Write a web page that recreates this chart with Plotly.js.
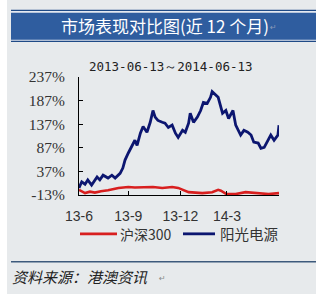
<!DOCTYPE html>
<html>
<head>
<meta charset="utf-8">
<script src="https://cdn.plot.ly/plotly-3.0.1.min.js"></script>
<style>
html,body{margin:0;padding:0;background:#ffffff;width:322px;height:296px;overflow:hidden;}
#chart{position:absolute;left:7px;top:0;width:309px;height:294px;}
</style>
</head>
<body>
<div id="chart"></div>
<script>
// 阳光电源
const blueDates = ['2013-06-13','2013-06-18','2013-06-24','2013-06-29','2013-07-06','2013-07-16','2013-07-21','2013-07-27','2013-08-05','2013-08-12','2013-08-18','2013-08-27','2013-09-01','2013-09-05','2013-09-11','2013-09-18','2013-09-23','2013-09-27','2013-10-03','2013-10-08','2013-10-15','2013-10-21','2013-10-26','2013-10-30','2013-11-04','2013-11-12','2013-11-17','2013-11-23','2013-11-30','2013-12-06','2013-12-11','2013-12-19','2013-12-24','2013-12-30','2014-01-02','2014-01-08','2014-01-15','2014-01-21','2014-01-26','2014-02-02','2014-02-08','2014-02-11','2014-02-17','2014-02-22','2014-03-02','2014-03-08','2014-03-13','2014-03-21','2014-03-26','2014-04-04','2014-04-10','2014-04-17','2014-04-23','2014-04-28','2014-05-06','2014-05-11','2014-05-17','2014-05-24','2014-05-29','2014-06-04','2014-06-11','2014-06-13'];
const blueValues = [2,15,10,19,8,25,19,29,23,29,23,33,44,61,76,92,103,92,118,132,120,141,166,152,145,141,139,130,135,118,109,124,120,139,160,141,152,166,183,181,194,206,200,194,160,166,149,166,135,114,124,120,114,99,97,86,88,103,114,103,114,135];

// 沪深300
const redDates = ['2013-06-13','2013-06-24','2013-07-03','2013-07-12','2013-07-23','2013-08-05','2013-08-24','2013-09-11','2013-09-23','2013-10-08','2013-10-26','2013-11-12','2013-11-30','2013-12-11','2013-12-30','2014-01-24','2014-02-11','2014-02-22','2014-02-27','2014-03-09','2014-03-26','2014-04-13','2014-05-01','2014-05-25','2014-06-13'];
const redValues = [-2,-9,-6,-8,-5,-3,2,4,3,4,4,2,4,2,-7,-9,-7,-2,-4,-11,-11,-7,-9,-11,-9];

const yTicks = [-13,37,87,137,187,237];
const yTickText = ['-13%','37%','87%','137%','187%','237%'];
const xTickVals = ['2013-06-13','2013-09-11','2013-12-15','2014-03-10'];
const xTickText = ['13-6','13-9','13-12','14-3'];

const titleText = '市场表现对比图(近 12 个月)';
const subTitle = '2013-06-13～2014-06-13';
const seriesNames = ['沪深300','阳光电源'];
const sourceText = '资料来源：港澳资讯';

const RED = '#d81f1f', BLUE = '#0c1670';

const traces = [
  {x: redDates, y: redValues, name: seriesNames[0], type:'scatter', mode:'lines',
   line:{color:RED, width:2.6}, hoverinfo:'skip'},
  {x: blueDates, y: blueValues, name: seriesNames[1], type:'scatter', mode:'lines',
   line:{color:BLUE, width:2.8}, hoverinfo:'skip'}
];

// plot area in div px: x 72..272, y 76.5..195
const PL=72, PW=200, PB=195, PH=118.5;
const px = v => (v-PL)/PW;
const py = v => (PB-v)/PH;

const shapes = [
  {type:'rect', xref:'paper', yref:'paper', x0:px(4), x1:px(309), y0:py(41.3), y1:py(9), fillcolor:'#1f4a86', line:{width:0}, layer:'below'},
  {type:'rect', xref:'paper', yref:'paper', x0:px(4), x1:px(309), y0:py(40.2), y1:py(10.2), fillcolor:'#e4e9f1', line:{width:0}, layer:'below'},
  {type:'rect', xref:'paper', yref:'paper', x0:px(4), x1:px(309), y0:py(39), y1:py(12), fillcolor:'#2f5d9f', line:{width:0}, layer:'below'},
  {type:'line', xref:'paper', yref:'paper', x0:px(4), x1:px(309), y0:py(262), y1:py(262), line:{color:'#3d5a7c', width:1.5}},
  {type:'line', xref:'paper', yref:'paper', x0:px(73), x1:px(110), y0:py(234), y1:py(234), line:{color:RED, width:2.8}},
  {type:'line', xref:'paper', yref:'paper', x0:px(176), x1:px(208), y0:py(234), y1:py(234), line:{color:BLUE, width:2.8}}
];

const CJK = '"Noto Sans CJK SC", "Noto Sans", sans-serif';
const annotations = [
  {xref:'paper', yref:'paper', x:px(158), y:py(25), text:titleText, showarrow:false, xanchor:'center', yanchor:'middle', font:{family:CJK, size:17, color:'#ffffff'}},
  {xref:'paper', yref:'paper', x:px(261), y:py(27), text:'↵', showarrow:false, xanchor:'left', yanchor:'middle', font:{family:'DejaVu Sans', size:8, color:'#8a9ab8'}},
  {xref:'paper', yref:'paper', x:px(164), y:py(66), text:subTitle, showarrow:false, xanchor:'center', yanchor:'middle', font:{family:'"DejaVu Sans Mono", monospace', size:12.5, color:'#222222'}},
  {xref:'paper', yref:'paper', x:px(111), y:py(234), text:seriesNames[0], showarrow:false, xanchor:'left', yanchor:'middle', font:{family:CJK, size:14, color:'#333333'}},
  {xref:'paper', yref:'paper', x:px(211), y:py(234), text:seriesNames[1], showarrow:false, xanchor:'left', yanchor:'middle', font:{family:CJK, size:14.5, color:'#333333'}},
  {xref:'paper', yref:'paper', x:px(3), y:py(277), text:sourceText, showarrow:false, xanchor:'left', yanchor:'middle', font:{family:CJK, size:15, color:'#222222', style:'italic'}},
  {xref:'paper', yref:'paper', x:px(150), y:py(279), text:'↵', showarrow:false, xanchor:'left', yanchor:'middle', font:{family:'DejaVu Sans', size:8, color:'#8a8a8a'}}
];

const layout = {
  width:309, height:294,
  margin:{l:PL, r:309-PL-PW, t:PB-PH, b:294-PB, pad:0},
  paper_bgcolor:'#e7eaec', plot_bgcolor:'rgba(0,0,0,0)',
  showlegend:false,
  xaxis:{type:'date', range:['2013-06-13','2014-06-13'], tickmode:'array', tickvals:xTickVals, ticktext:xTickText,
    ticks:'inside', ticklen:4, tickcolor:'#000', showline:true, linecolor:'#000', linewidth:1, showgrid:false, zeroline:false,
    ticklabelstandoff:8, tickfont:{family:'"Liberation Sans", Arial, sans-serif', size:14, color:'#333'}, fixedrange:true},
  yaxis:{range:[-13,237], tickmode:'array', tickvals:yTicks, ticktext:yTickText,
    ticks:'inside', ticklen:4, tickcolor:'#000', showline:true, linecolor:'#000', linewidth:1, showgrid:false, zeroline:false,
    ticklabelstandoff:10, tickfont:{family:'"Liberation Serif", "Times New Roman", serif', size:15.5, color:'#333'}, fixedrange:true},
  shapes:shapes, annotations:annotations
};

Plotly.newPlot('chart', traces, layout, {staticPlot:true, displayModeBar:false});
</script>
</body>
</html>
